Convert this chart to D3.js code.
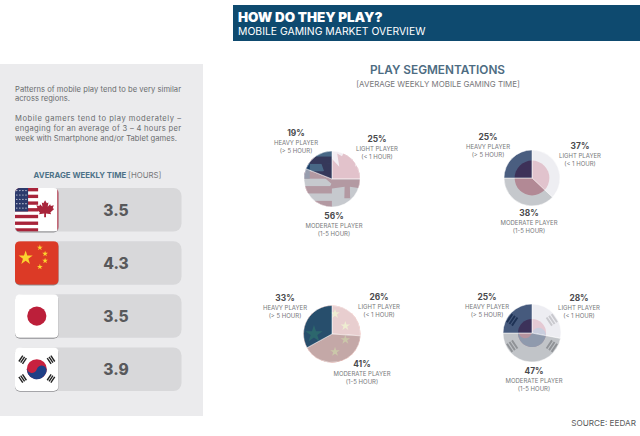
<!DOCTYPE html>
<html>
<head>
<meta charset="utf-8">
<script src="https://d3js.org/d3.v7.min.js"></script>
<style>
  html, body { margin: 0; padding: 0; background: #fff; }
  svg { display: block; }
  text { font-family: Inter, "Open Sans", sans-serif; }
</style>
</head>
<body>
<div id="chart"></div>
<script>
// values
const regions = ["usca", "china", "japan", "korea"]
const weeklyHours = ["3.5", "4.3", "3.5", "3.9"]
const segments = ["light", "moderate", "heavy"]
const lightShare = [25, 26, 37, 28]
const moderateShare = [56, 41, 38, 47]
const heavyShare = [19, 33, 25, 25]
const segmentNames = ["LIGHT PLAYER", "MODERATE PLAYER", "HEAVY PLAYER"]
const segmentRanges = ["(< 1 HOUR)", "(1-5 HOUR)", "(> 5 HOUR)"]

// layout, one entry per region
const pieCentres = [[332, 179], [332, 334], [532, 178], [532, 333]]
const pieRadius = [28, 28.5, 28, 29]
// label centre x / top line y for light, moderate, heavy
const labelSpots = [
  [[377, 142], [334, 219], [296, 136]],
  [[379, 300], [362, 367], [285, 301]],
  [[580, 149], [529, 216], [488, 140]],
  [[579, 301], [534, 374], [487, 300]]
]
const pieFlags = [
  {side: 96, dx: -3, dy: -4, leaf: 1.45},
  {side: 86, dx: -3, dy: 10, bigDx: 7, bigR: 9, smallR: 5},
  {side: 79, dx: 0, dy: 0},
  {side: 61, dx: 0, dy: 0}
]
const overlays = [
  ["rgba(240,234,240,.8)", "rgba(182,186,192,.78)", "rgba(20,62,100,.78)"],
  ["rgba(235,244,250,.8)", "rgba(190,196,200,.8)", "rgba(3,82,122,.84)"],
  ["rgba(234,234,239,.81)", "rgba(175,179,185,.72)", "rgba(29,54,96,.8)"],
  ["rgba(234,234,239,.84)", "rgba(175,179,185,.78)", "rgba(29,54,96,.82)"]
]

const svg = d3.select("#chart").append("svg")
    .attr("width", 640)
    .attr("height", 436)

const defs = svg.append("defs")

// --- small flag drawing helpers, all centred on 0,0 with a side of s
function star(g, x, y, r, fill) {
  g.append("path")
    .attr("d", d3.symbol(d3.symbolStar).size(r * r / 0.89)())
    .attr("transform", `translate(${x},${y})`)
    .attr("fill", fill)
}

const leafHalf = [[0,-1],[.2,-.64],[.38,-.74],[.3,-.24],[.58,-.54],[.66,-.34],[1,-.42],[.88,-.08],[1.04,.02],[.6,.4],[.7,.6],[.1,.52],[.11,.95]]
const leafPath = d3.line()(leafHalf.concat(leafHalf.slice(1).reverse().map(p => [-p[0], p[1]]))) + "Z"

function flagUsCa(g, s, opt) {
  const split = s * 0.03
  g.append("rect").attr("x", -s/2).attr("y", -s/2).attr("width", s).attr("height", s).attr("fill", "#fff")
  const stripes = d3.range(13)
  g.selectAll("rect.stripe").data(stripes.filter(d => d % 2 == 0)).enter().append("rect")
    .attr("x", -s/2)
    .attr("y", d => -s/2 + d * s/13)
    .attr("width", s/2 + split)
    .attr("height", s/13)
    .attr("fill", "#a8243a")
  g.append("rect").attr("x", -s/2).attr("y", -s/2).attr("width", s * 0.3).attr("height", s * 7/13).attr("fill", "#2c3a6c")
  if (s < 60) {
    d3.range(5).forEach(r => d3.range(4).forEach(c => {
      g.append("circle").attr("cx", -s/2 + (c + .6) * s * .07).attr("cy", -s/2 + (r + .6) * s * .1).attr("r", .6).attr("fill", "#fff")
    }))
  }
  const k = s * 0.19 * (opt.leaf || 1.05)
  g.append("path").attr("d", leafPath)
    .attr("transform", `translate(${s * 0.19},${-s * 0.02}) scale(${k})`)
    .attr("fill", "#a8243a")
  g.append("rect").attr("x", s * 0.47).attr("y", -s/2).attr("width", s * 0.03).attr("height", s).attr("fill", "#a8243a")
}

function flagChina(g, s, opt) {
  g.append("rect").attr("x", -s/2).attr("y", -s/2).attr("width", s).attr("height", s).attr("fill", "#dc3a26")
  star(g, -s * 0.256 + (opt.bigDx || 0), -s * 0.116, opt.bigR || s * 0.17, "#fbd22f")
  const small = [[.07, -.35], [.19, -.21], [.19, -.05], [.07, .09]]
  small.forEach(p => star(g, p[0] * s, p[1] * s, opt.smallR || s * 0.07, "#fbd22f"))
}

function flagJapan(g, s) {
  g.append("rect").attr("x", -s/2).attr("y", -s/2).attr("width", s).attr("height", s).attr("fill", "#fff")
  g.append("circle").attr("r", s * 0.22).attr("fill", "#bc1f3a")
}

function flagKorea(g, s) {
  const r = s * 0.23
  g.append("rect").attr("x", -s/2).attr("y", -s/2).attr("width", s).attr("height", s).attr("fill", "#fff")
  g.append("circle").attr("r", r).attr("fill", "#c8213f")
  // lower swirl of the taegeuk
  g.append("path")
    .attr("d", `M${-r},0 A${r},${r} 0 0 0 ${r},0 A${r/2},${r/2} 0 0 0 0,0 A${r/2},${r/2} 0 0 1 ${-r},0Z`)
    .attr("fill", "#1f3f86")
    .attr("transform", "rotate(15)")
  const bars = [-1, 0, 1]
  ;[[-.325, -.215, -56], [.325, -.215, 56], [-.325, .215, 56], [.325, .215, -56]].forEach(t => {
    const tg = g.append("g").attr("transform", `translate(${t[0] * s},${t[1] * s}) rotate(${t[2]})`)
    bars.forEach(b => {
      tg.append("rect")
        .attr("x", -s * 0.08)
        .attr("y", b * s * 0.05 - s * 0.016)
        .attr("width", s * 0.16)
        .attr("height", s * 0.032)
        .attr("fill", "#222")
    })
  })
}

const flagDraw = {usca: flagUsCa, china: flagChina, japan: flagJapan, korea: flagKorea}

// --- left panel
svg.append("rect").attr("x", 0).attr("y", 64).attr("width", 203).attr("height", 352).attr("fill", "#ebebed")

const introLines = [
  ["Patterns of mobile play tend to be very similar", 91.5, 166],
  ["across regions.", 101, 0],
  ["Mobile gamers tend to play moderately –", 120.5, 166],
  ["engaging for an average of 3 – 4 hours per", 130.5, 166],
  ["week with Smartphone and/or Tablet games.", 140.5, 162]
]
introLines.forEach(l => {
  const t = svg.append("text").attr("x", 15).attr("y", l[1])
    .attr("font-size", 7.6).attr("fill", "#6a6b6e").text(l[0])
  if (l[2]) t.attr("textLength", l[2]).attr("lengthAdjust", "spacing")
})

const hoursTitle = svg.append("text").attr("x", 97.5).attr("y", 178)
    .attr("text-anchor", "middle").attr("font-size", 7.8)
hoursTitle.append("tspan").attr("font-weight", 700).attr("fill", "#4d7288").text("AVERAGE WEEKLY TIME ")
hoursTitle.append("tspan").attr("fill", "#77787b").text("[HOURS]")

const yBand = d3.scaleBand().domain(regions).range([188, 391]).paddingInner(0.179)
const tileSize = yBand.bandwidth()

const rows = svg.selectAll("g.row").data(regions).enter().append("g")
    .attr("class", "row")
    .attr("transform", d => `translate(15,${yBand(d)})`)

rows.append("rect")
    .attr("width", 166.5)
    .attr("height", tileSize)
    .attr("rx", 8)
    .attr("fill", "#d8d8da")

rows.append("text")
    .attr("x", 101)
    .attr("y", tileSize / 2 + 6)
    .attr("text-anchor", "middle")
    .attr("font-size", 15.5)
    .attr("font-weight", 800)
    .attr("fill", "#58595b")
    .text((d, i) => weeklyHours[i])

rows.each(function(d, i) {
  const row = d3.select(this)
  defs.append("clipPath").attr("id", "tile" + i)
    .append("rect").attr("x", -tileSize/2).attr("y", -tileSize/2).attr("width", tileSize).attr("height", tileSize).attr("rx", 5)
  row.append("rect").attr("y", 0.8).attr("width", tileSize).attr("height", tileSize).attr("rx", 5).attr("fill", "#8f8f92")
  const tile = row.append("g")
      .attr("transform", `translate(${tileSize/2},${tileSize/2})`)
      .attr("clip-path", `url(#tile${i})`)
  flagDraw[d](tile, tileSize, {})
})

// --- header
svg.append("rect").attr("x", 233).attr("y", 5).attr("width", 407).attr("height", 36).attr("fill", "#0e4a6f")
svg.append("text").attr("x", 238).attr("y", 21.5).attr("font-size", 13.4).attr("font-weight", 900).attr("fill", "#fff").text("HOW DO THEY PLAY?")
svg.append("text").attr("x", 238).attr("y", 34.5).attr("font-size", 10.4).attr("fill", "#fff").text("MOBILE GAMING MARKET OVERVIEW")

svg.append("text").attr("x", 437.5).attr("y", 73.5).attr("text-anchor", "middle")
    .attr("font-size", 11.8).attr("font-weight", 600).attr("fill", "#4d6c82").text("PLAY SEGMENTATIONS")
svg.append("text").attr("x", 438).attr("y", 86.5).attr("text-anchor", "middle")
    .attr("font-size", 7.9).attr("fill", "#77787b").text("[AVERAGE WEEKLY MOBILE GAMING TIME]")

// --- pies
const pie = d3.pie().sort(null).value(d => d)

regions.forEach((region, i) => {
  const shares = [lightShare[i], moderateShare[i], heavyShare[i]]
  const c = pieCentres[i]
  const r = pieRadius[i]
  const arc = d3.arc().innerRadius(0).outerRadius(r)
  const g = svg.append("g").attr("transform", `translate(${c[0]},${c[1]})`)

  defs.append("clipPath").attr("id", "pie" + i).append("circle").attr("r", r)
  const flagLayout = pieFlags[i]
  const flag = g.append("g").attr("clip-path", `url(#pie${i})`)
    .append("g").attr("transform", `translate(${flagLayout.dx},${flagLayout.dy})`)
  flagDraw[region](flag, flagLayout.side, flagLayout)

  g.selectAll("path.slice").data(pie(shares)).enter().append("path")
      .attr("class", "slice")
      .attr("d", arc)
      .attr("fill", (d, j) => overlays[i][j])
      .attr("stroke", "#fff")
      .attr("stroke-width", 0.5)

  segments.forEach((seg, j) => {
    const spot = labelSpots[i][j]
    const label = svg.append("g").attr("transform", `translate(${spot[0]},${spot[1]})`).attr("text-anchor", "middle")
    label.append("text").attr("font-size", 8.4).attr("font-weight", 700).attr("fill", "#4a4a4d").text(shares[j] + "%")
    label.append("text").attr("y", 8.5).attr("font-size", 6).attr("fill", "#77787b").text(segmentNames[j])
    label.append("text").attr("y", 17).attr("font-size", 6).attr("fill", "#77787b").text(segmentRanges[j])
  })
})

svg.append("text").attr("x", 636).attr("y", 426).attr("text-anchor", "end")
    .attr("font-size", 8.2).attr("fill", "#58595b").text("SOURCE: EEDAR")
</script>
</body>
</html>
